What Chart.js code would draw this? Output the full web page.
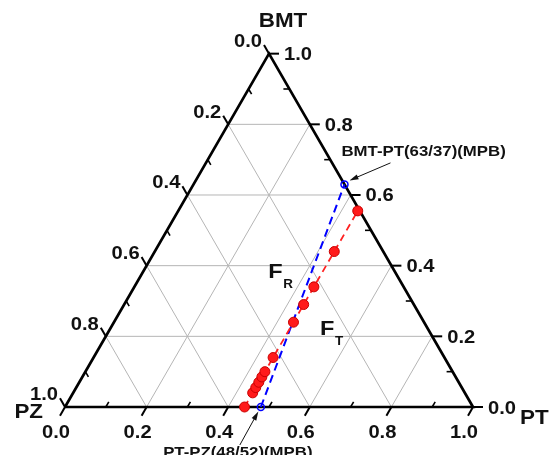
<!DOCTYPE html>
<html>
<head>
<meta charset="utf-8">
<script src="https://cdn.jsdelivr.net/npm/chart.js@4.4.1/dist/chart.umd.min.js"></script>
<style>
  html, body { margin: 0; padding: 0; background: #fff; overflow: hidden; }
  #wrap { position: relative; width: 555px; height: 455px; }
</style>
</head>
<body>
<div id="wrap"><canvas id="c"></canvas></div>
<script>
// Axis ticks (component fractions) and their labels
const tickValues = [0, 0.2, 0.4, 0.6, 0.8, 1.0];
const tickLabels = ['0.0', '0.2', '0.4', '0.6', '0.8', '1.0'];
const minorTicks = [0.1, 0.3, 0.5, 0.7, 0.9];
const gridValues = [0.2, 0.4, 0.6, 0.8];

// Vertex names
const vertexTop = 'BMT';
const vertexLeft = 'PZ';
const vertexRight = 'PT';

// Studied compositions: PT and BMT fractions (PZ is the remainder)
const samplePT  = [0.44, 0.44, 0.44, 0.44, 0.44, 0.44, 0.44, 0.44, 0.44, 0.44, 0.44, 0.44];
const sampleBMT = [0.00, 0.04, 0.055, 0.07, 0.085, 0.10, 0.14, 0.24, 0.29, 0.34, 0.44, 0.555];

// Morphotropic phase boundary between the two binary MPB compositions
const mpbPT  = [0.48, 0.37];
const mpbBMT = [0.00, 0.63];
const mpbLabels = ['PT-PZ(48/52)(MPB)', 'BMT-PT(63/37)(MPB)'];

// Phase-region labels
const regionSubs = ['R', 'T'];
const regionPT   = [0.315, 0.523];
const regionBMT  = [0.366, 0.204];

// ---- geometry helpers ----
const S3 = Math.sqrt(3) / 2;
function tern(pt, bmt) { return { x: pt + bmt / 2, y: bmt * S3 }; }

const FONT = '"Liberation Sans", Arial, sans-serif';
const STRETCH = 1.12;
const MAJOR = 10, MINOR = 6;

function segment(a, b, color, width, order) {
  return {
    data: [a, b], showLine: true, borderColor: color, borderWidth: width,
    pointRadius: 0, pointHoverRadius: 0, order: order, fill: false
  };
}

const datasets = [];

// grid lines at 0.2 steps for each component
gridValues.forEach(v => {
  datasets.push(segment(tern(0, v), tern(1 - v, v), '#b5b5b5', 1, 10));     // BMT = v
  datasets.push(segment(tern(v, 0), tern(v, 1 - v), '#b5b5b5', 1, 10));     // PT = v
  datasets.push(segment(tern(1 - v, 0), tern(0, 1 - v), '#b5b5b5', 1, 10)); // PZ = v
});

// triangle frame
datasets.push({
  data: [tern(0, 0), tern(1, 0), tern(0, 1), tern(0, 0)],
  showLine: true, borderColor: '#000', borderWidth: 2.7, pointRadius: 0,
  pointHoverRadius: 0, order: 5, fill: false, borderJoinStyle: 'miter'
});

// MPB line
datasets.push({
  data: mpbPT.map((p, i) => tern(p, mpbBMT[i])),
  showLine: true, borderColor: '#0000ff', borderWidth: 2, borderDash: [8, 5],
  pointRadius: 3.5, pointBackgroundColor: 'rgba(0,0,0,0)',
  pointBorderColor: '#0000ff', pointBorderWidth: 1.5, order: 2, fill: false
});

// studied compositions
datasets.push({
  data: samplePT.map((p, i) => tern(p, sampleBMT[i])),
  showLine: true, borderColor: '#ff2020', borderWidth: 1.8, borderDash: [7, 5],
  pointRadius: 5, pointBackgroundColor: '#ff1a1a',
  pointBorderColor: '#c80000', pointBorderWidth: 1, order: 1, fill: false
});

function drawText(ctx, str, x, y, size, align) {
  ctx.save();
  ctx.font = 'bold ' + size + 'px ' + FONT;
  ctx.textAlign = align;
  ctx.textBaseline = 'alphabetic';
  ctx.fillStyle = '#111';
  ctx.translate(x, y);
  ctx.scale(STRETCH, 1);
  ctx.fillText(str, 0, 0);
  ctx.restore();
}

function drawArrow(ctx, x1, y1, x2, y2) {
  const ang = Math.atan2(y2 - y1, x2 - x1);
  const L = 9, W = 2.6;
  ctx.save();
  ctx.strokeStyle = '#111';
  ctx.fillStyle = '#111';
  ctx.lineWidth = 1;
  ctx.beginPath();
  ctx.moveTo(x1, y1);
  ctx.lineTo(x2 - Math.cos(ang) * L * 0.6, y2 - Math.sin(ang) * L * 0.6);
  ctx.stroke();
  ctx.beginPath();
  ctx.moveTo(x2, y2);
  ctx.lineTo(x2 - L * Math.cos(ang) + W * Math.sin(ang), y2 - L * Math.sin(ang) - W * Math.cos(ang));
  ctx.lineTo(x2 - L * Math.cos(ang) - W * Math.sin(ang), y2 - L * Math.sin(ang) + W * Math.cos(ang));
  ctx.closePath();
  ctx.fill();
  ctx.restore();
}

// ternary axes: ticks, tick labels, vertex names and annotations
const ternaryAxes = {
  id: 'ternaryAxes',
  beforeDatasetsDraw(chart) {
    const ctx = chart.ctx, xs = chart.scales.x, ys = chart.scales.y;
    const px = (pt, bmt) => { const p = tern(pt, bmt); return [xs.getPixelForValue(p.x), ys.getPixelForValue(p.y)]; };
    const axes = [
      { at: v => px(v, 0), out: [-0.5, S3] },        // PT along the base
      { at: v => px(1 - v, v), out: [1, 0] },        // BMT along the right side
      { at: v => px(0, 1 - v), out: [-0.5, -S3] }    // PZ along the left side
    ];
    ctx.save();
    ctx.strokeStyle = '#000';
    axes.forEach(a => {
      ctx.lineWidth = 2;
      tickValues.forEach(v => {
        const [x, y] = a.at(v);
        ctx.beginPath(); ctx.moveTo(x, y);
        ctx.lineTo(x + a.out[0] * MAJOR, y + a.out[1] * MAJOR); ctx.stroke();
      });
      ctx.lineWidth = 1.6;
      minorTicks.forEach(v => {
        const [x, y] = a.at(v);
        ctx.beginPath(); ctx.moveTo(x, y);
        ctx.lineTo(x - a.out[0] * MINOR, y - a.out[1] * MINOR); ctx.stroke();
      });
    });
    ctx.restore();
  },
  afterDatasetsDraw(chart) {
    const ctx = chart.ctx, xs = chart.scales.x, ys = chart.scales.y;
    const px = (pt, bmt) => { const p = tern(pt, bmt); return [xs.getPixelForValue(p.x), ys.getPixelForValue(p.y)]; };

    tickValues.forEach((v, i) => {
      // base (PT)
      let [x, y] = px(v, 0);
      let ex = x - 0.5 * MAJOR, ey = y + S3 * MAJOR;
      drawText(ctx, tickLabels[i], ex - 4, ey + 22, 18, 'center');
      // right side (BMT)
      [x, y] = px(1 - v, v);
      drawText(ctx, tickLabels[i], x + MAJOR + 5, y + 6.5, 18, 'left');
      // left side (PZ)
      [x, y] = px(0, 1 - v);
      ex = x - 0.5 * MAJOR; ey = y - S3 * MAJOR;
      drawText(ctx, tickLabels[i], ex - 2, ey + 2, 18, 'right');
    });

    // vertex names
    let [tx, ty] = px(0, 1);
    drawText(ctx, vertexTop, tx + 14, ty - 27, 20, 'center');
    [tx, ty] = px(0, 0);
    drawText(ctx, vertexLeft, tx - 22, ty + 11, 20, 'right');
    [tx, ty] = px(1, 0);
    drawText(ctx, vertexRight, tx + 47, ty + 17, 20, 'left');

    // phase regions F_R, F_T
    regionSubs.forEach((s, i) => {
      const [fx, fy] = px(regionPT[i], regionBMT[i]);
      drawText(ctx, 'F', fx, fy, 21, 'left');
      drawText(ctx, s, fx + 15, fy + 10.5, 12, 'left');
    });

    // MPB annotations with arrows
    const [bx, by] = px(mpbPT[0], mpbBMT[0]);
    drawText(ctx, mpbLabels[0], bx - 23, by + 49.5, 15, 'center');
    drawArrow(ctx, bx - 21, by + 38, bx - 2.5, by + 4.5);
    const [rx, ry] = px(mpbPT[1], mpbBMT[1]);
    drawText(ctx, mpbLabels[1], rx - 3, ry - 28, 15, 'left');
    drawArrow(ctx, rx + 46, ry - 21.5, rx + 5, ry - 4);
  }
};

new Chart(document.getElementById('c'), {
  type: 'scatter',
  data: { datasets: datasets },
  options: {
    responsive: true,
    maintainAspectRatio: false,
    animation: false,
    layout: { padding: 0, autoPadding: false },
    plugins: { legend: { display: false }, tooltip: { enabled: false } },
    events: [],
    scales: {
      x: { type: 'linear', display: false, min: -65 / 408, max: 490 / 408 },
      y: { type: 'linear', display: false, min: -48 / 408, max: 407 / 408 }
    }
  },
  plugins: [ternaryAxes]
});
</script>
</body>
</html>
